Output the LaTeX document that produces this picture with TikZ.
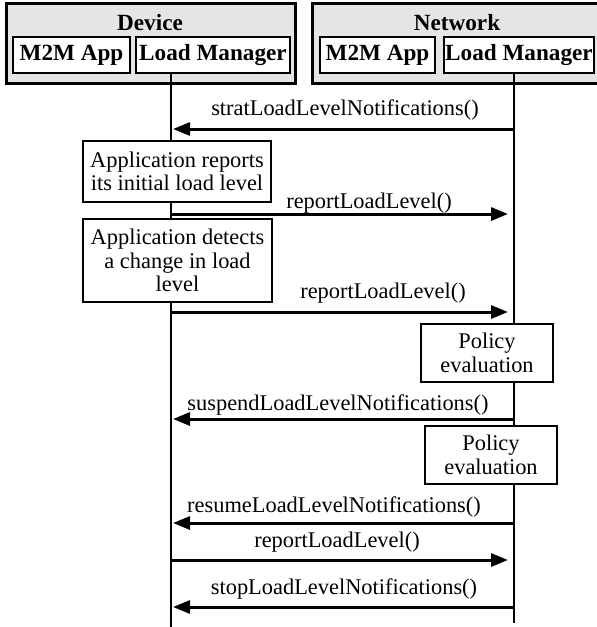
\documentclass[tikz,border=0pt]{standalone}
\usepackage{fontspec}
\setmainfont{Liberation Serif}
\usetikzlibrary{positioning}
\usetikzlibrary{arrows.meta}
\tikzstyle{party}=[draw,line width=1.5pt,fill=black!10,inner sep=0pt]
\tikzstyle{head}=[font=\fontsize{11.6}{12}\selectfont\bfseries]
\tikzstyle{unit}=[draw,line width=1pt,fill=white,head,inner sep=0pt]
\tikzstyle{note}=[draw,line width=1pt,fill=white,align=center,inner sep=0pt]
\tikzstyle{lifeline}=[draw,line width=1pt]
\tikzstyle{msg}=[draw,line width=1.5pt,-{Triangle[length=8.5pt,width=6.5pt]}]
\tikzstyle{msglabel}=[inner sep=0pt]

\begin{document}
\begin{tikzpicture}[x=0.5pt,y=-0.5pt,font=\fontsize{11.2}{11.8}\selectfont]
  \useasboundingbox (0,0) rectangle (597,627);

  \def\xd{171};
  \def\xn{514};

  % the two sides with their components
  \foreach \x/\w/\name in {150.5/289/dev, 457/290/net}
     \node[party, minimum width=\w*0.5pt, minimum height=40pt] (\name box) at (\x, 43) {};
  \node[head] (devtitle) at (150, 23) {Device};
  \node[head] (nettitle) at (457, 23) {Network};

  \foreach \x/\w/\name/\txt in {71.5/117/devapp/M2M App, 213/154/devlm/Load Manager,
                                377.5/115/netapp/M2M App, 519/150/netlm/Load Manager}
     \node[unit, minimum width=\w*0.5pt, minimum height=18pt] (\name) at (\x, 55) {\txt};

  % lifelines of the two load managers
  \coordinate (devbot) at (\xd, 627);
  \coordinate (netbot) at (\xn, 623);
  \draw[lifeline] (devlm.south -| devbot) -- (devbot);
  \draw[lifeline] (netlm.south -| netbot) -- (netbot);

  % points on the lifelines where the messages start and end
  \foreach \n/\y in {1/129, 2/214, 3/312, 4/419, 5/523, 6/560, 7/607} {
     \coordinate (d\n) at (\xd, \y);
     \coordinate (n\n) at (\xn, \y);
  }

  % local activities
  \node[note, minimum width=94pt, minimum height=30.5pt] (report) at (177, 171.5)
       {Application reports\\its initial load level};
  \node[note, minimum width=94.5pt, minimum height=41.5pt] (detect) at (177.5, 260.5)
       {Application detects\\a change in load\\level};
  \node[note, minimum width=66pt, minimum height=29pt] (policyA) at (487, 353)
       {Policy\\evaluation};
  \node[note, minimum width=66pt, minimum height=29pt] (policyB) at (491, 455)
       {Policy\\evaluation};

  % network -> device
  \foreach \n/\lx/\ly/\txt in {1/345/110/{stratLoadLevelNotifications()},
                               4/338/405/{suspendLoadLevelNotifications()},
                               5/334/507/{resumeLoadLevelNotifications()},
                               7/344/589/{stopLoadLevelNotifications()}} {
     \draw[msg, shorten >=1pt] (n\n) -- (d\n);
     \node[msglabel] (m\n) at (\lx, \ly) {\txt};
  }

  % device -> network
  \foreach \n/\lx/\ly in {2/369/203, 3/383/293, 6/337/542} {
     \draw[msg, shorten >=3pt] (d\n) -- (n\n);
     \node[msglabel] (m\n) at (\lx, \ly) {reportLoadLevel()};
  }

\end{tikzpicture}
\end{document}
